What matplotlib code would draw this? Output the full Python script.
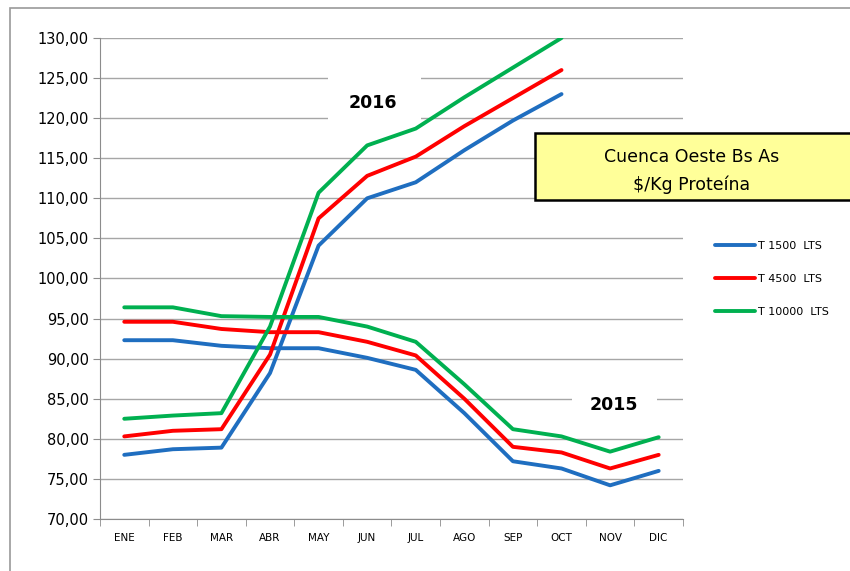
import matplotlib.pyplot as plt
from matplotlib.patches import Rectangle
from matplotlib.ticker import FuncFormatter, FixedLocator

months = ["ENE", "FEB", "MAR", "ABR", "MAY", "JUN", "JUL", "AGO", "SEP", "OCT", "NOV", "DIC"]

# 2016 (ENE..OCT)
t1500_2016 = [78.0, 78.7, 78.9, 88.2, 104.1, 110.0, 112.0, 116.0, 119.7, 123.0]
t4500_2016 = [80.3, 81.0, 81.2, 90.5, 107.5, 112.8, 115.2, 119.0, 122.5, 126.0]
t10000_2016 = [82.5, 82.9, 83.2, 94.0, 110.7, 116.6, 118.7, 122.6, 126.3, 130.0]

# 2015 (ENE..DIC)
t1500_2015 = [92.3, 92.3, 91.6, 91.3, 91.3, 90.1, 88.6, 83.2, 77.2, 76.3, 74.2, 76.0]
t4500_2015 = [94.6, 94.6, 93.7, 93.3, 93.3, 92.1, 90.4, 85.0, 79.0, 78.3, 76.3, 78.0]
t10000_2015 = [96.4, 96.4, 95.3, 95.2, 95.2, 94.0, 92.1, 86.8, 81.2, 80.3, 78.4, 80.2]

labels = ["T 1500  LTS", "T 4500  LTS", "T 10000  LTS"]
colors = ["#1F6EC0", "#FF0000", "#00B050"]

plt.rcParams['font.family'] = ['DejaVu Sans']

fig = plt.figure(figsize=(8.5, 5.71), dpi=100)
ax = fig.add_axes([0.1176, 0.0911, 0.6859, 0.8424])

# outer chart frame
fig.patches.append(Rectangle((10 / 850, -0.1), 1.2, 1 - 8 / 571 + 0.1,
                             transform=fig.transFigure, fill=False,
                             edgecolor="#9A9A9A", linewidth=1.2))

x15 = list(range(len(months)))
x16 = list(range(len(t1500_2016)))
series15 = [t1500_2015, t4500_2015, t10000_2015]
series16 = [t1500_2016, t4500_2016, t10000_2016]
for s15, s16, c, lab in zip(series15, series16, colors, labels):
    ax.plot(x15, s15, color=c, linewidth=2.8, solid_capstyle="round", zorder=3, label=lab)
    ax.plot(x16, s16, color=c, linewidth=2.8, solid_capstyle="round", zorder=3)

ax.set_xlim(-0.5, len(months) - 0.5)
ax.set_ylim(70, 130)
ax.set_yticks(range(70, 131, 5))
ax.yaxis.set_major_formatter(FuncFormatter(lambda v, p: f"{v:.2f}".replace(".", ",")))
ax.grid(axis="y", color="#A6A6A6", linewidth=1.0, zorder=0)
ax.set_axisbelow(True)

ax.set_xticks(x15)
ax.set_xticklabels(months, fontsize=7.5)
ax.xaxis.set_minor_locator(FixedLocator([i - 0.5 for i in range(len(months) + 1)]))
ax.tick_params(axis="x", which="major", length=0, pad=10)
ax.tick_params(axis="x", which="minor", length=5, color="#8C8C8C", direction="out")
ax.tick_params(axis="y", length=5, color="#8C8C8C", direction="out", labelsize=10.5, pad=3)

for side in ["top", "right"]:
    ax.spines[side].set_visible(False)
for side in ["left", "bottom"]:
    ax.spines[side].set_color("#8C8C8C")

# white label areas that break the gridlines
ax.add_patch(Rectangle((4.19, 119.3), 1.92, 7.0, facecolor="white", edgecolor="none", zorder=1))
ax.add_patch(Rectangle((9.22, 83.0), 1.75, 3.5, facecolor="white", edgecolor="none", zorder=1))
ax.text(5.12, 121.9, "2016", fontsize=12.5, fontweight="bold", ha="center", va="center", zorder=2)
ax.text(10.08, 84.2, "2015", fontsize=12.5, fontweight="bold", ha="center", va="center", zorder=2)

# title box
fig.patches.append(Rectangle((535 / 850, 1 - 200 / 571), 0.4, 67 / 571,
                             transform=fig.transFigure, facecolor="#FFFF99",
                             edgecolor="black", linewidth=1.8, zorder=5))
fig.text(692 / 850, 1 - 157 / 571, "Cuenca Oeste Bs As", fontsize=12.5, ha="center",
         va="center", zorder=6)
fig.text(692 / 850, 1 - 185 / 571, "$/Kg Proteína", fontsize=12.5, ha="center",
         va="center", zorder=6)

leg = ax.legend(loc="center left", bbox_to_anchor=(715 / 850, 1 - 279 / 571),
                bbox_transform=fig.transFigure, frameon=False, borderaxespad=0,
                borderpad=0, fontsize=8, handlelength=3.6, handletextpad=0.25,
                labelspacing=2.1)

fig.savefig("out.png", dpi=100)
